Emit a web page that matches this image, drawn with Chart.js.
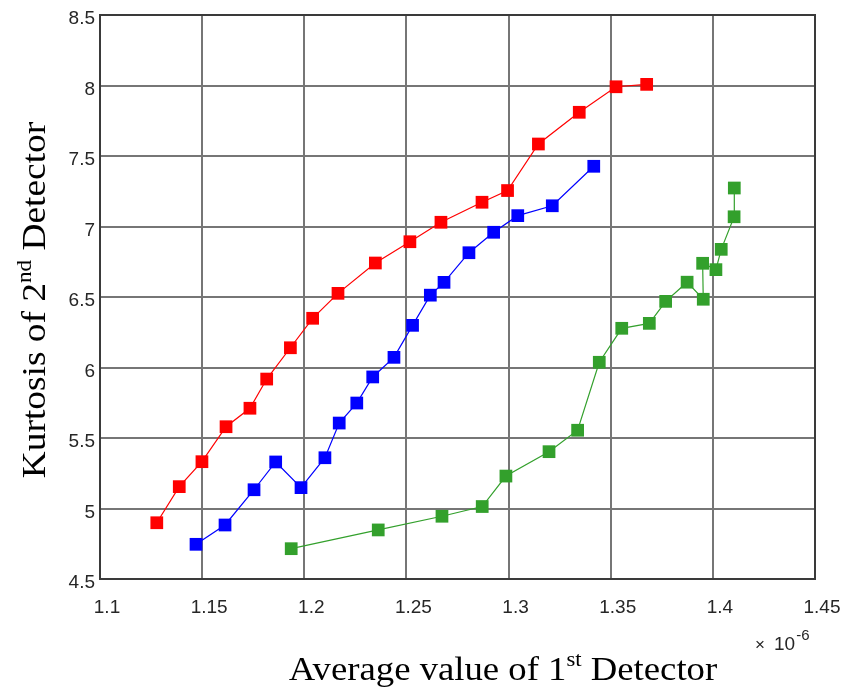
<!DOCTYPE html>
<html>
<head>
<meta charset="utf-8">
<script src="https://cdn.jsdelivr.net/npm/chart.js@4"></script>
<style>
  body { margin: 0; background: #fff; }
  #wrap { width: 842px; height: 696px; }
</style>
</head>
<body>
<div id="wrap"><canvas id="chart"></canvas></div>
<script>
// x values are in units of 1e-6 (axis multiplier shown as "x 10^-6")
const redX = [1.1278, 1.1388, 1.1499, 1.1617, 1.1734, 1.1816, 1.1932, 1.2041, 1.2165, 1.2348, 1.2517, 1.2669, 1.2870, 1.2995, 1.3146, 1.3346, 1.3526, 1.3676];
const redY = [4.899, 5.155, 5.332, 5.580, 5.711, 5.918, 6.140, 6.349, 6.526, 6.741, 6.892, 7.030, 7.172, 7.255, 7.585, 7.810, 7.991, 8.008];

const blueX = [1.1470, 1.1612, 1.1754, 1.1860, 1.1984, 1.2101, 1.2171, 1.2257, 1.2335, 1.2439, 1.2530, 1.2617, 1.2684, 1.2806, 1.2927, 1.3045, 1.3214, 1.3417];
const blueY = [4.746, 4.883, 5.133, 5.330, 5.148, 5.360, 5.606, 5.748, 5.933, 6.072, 6.299, 6.513, 6.604, 6.814, 6.959, 7.077, 7.147, 7.427];

const greenX = [1.1936, 1.2362, 1.2674, 1.2871, 1.2987, 1.3198, 1.3338, 1.3444, 1.3554, 1.3689, 1.3769, 1.3874, 1.3953, 1.3950, 1.4015, 1.4041, 1.4104, 1.4105];
const greenY = [4.715, 4.848, 4.945, 5.014, 5.230, 5.403, 5.555, 6.037, 6.278, 6.313, 6.469, 6.605, 6.484, 6.739, 6.694, 6.838, 7.069, 7.273];

const xTicks = [1.1, 1.15, 1.2, 1.25, 1.3, 1.35, 1.4, 1.45];
const yTicks = [4.5, 5, 5.5, 6, 6.5, 7, 7.5, 8, 8.5];

function toPoints(xs, ys) {
    return xs.map((x, i) => ({ x: x, y: ys[i] }));
}

function series(xs, ys, color) {
    return {
        data: toPoints(xs, ys),
        borderColor: color,
        backgroundColor: color,
        borderWidth: 1.2,
        pointStyle: 'rect',
        pointRadius: 9,
        pointBorderWidth: 0,
        showLine: true,
        tension: 0
    };
}

const tickFont = { family: 'Liberation Sans', size: 19 };
const tickColor = '#262626';

// draws a title with one superscript part, stretched a bit along the text
function titleWithSup(ctx, a, sup, b, stretch) {
    const big = '34px "Liberation Serif"';
    const small = '21px "Liberation Serif"';
    ctx.font = big; const w1 = ctx.measureText(a).width; const w3 = ctx.measureText(b).width;
    ctx.font = small; const w2 = ctx.measureText(sup).width;
    ctx.scale(stretch, 1);
    const x0 = -(w1 + w2 + w3) / 2;
    ctx.font = big; ctx.fillText(a, x0, 0);
    ctx.font = small; ctx.fillText(sup, x0 + w1, -14);
    ctx.font = big; ctx.fillText(b, x0 + w1 + w2, 0);
}

// frame, axis titles and exponent label
const decorations = {
    id: 'decorations',
    afterDraw(chart) {
        const ctx = chart.ctx;
        const a = chart.chartArea;
        ctx.save();
        ctx.strokeStyle = '#3a3a3a';
        ctx.lineWidth = 2;
        ctx.strokeRect(a.left, a.top, a.right - a.left, a.bottom - a.top);

        // exponent
        ctx.fillStyle = tickColor;
        ctx.textBaseline = 'alphabetic';
        ctx.font = '17px "Liberation Sans"';
        ctx.fillText('\u00d7', 755, 650);
        ctx.font = '19px "Liberation Sans"';
        ctx.fillText('10', 774, 650);
        const tw = ctx.measureText('10').width;
        ctx.font = '15px "Liberation Sans"';
        ctx.fillText('-6', 774 + tw + 1, 640);

        ctx.fillStyle = '#000';

        ctx.save();
        ctx.translate(503, 680);
        titleWithSup(ctx, 'Average value of 1', 'st', ' Detector', 1.08);
        ctx.restore();

        ctx.save();
        ctx.translate(45, 300);
        ctx.rotate(-Math.PI / 2);
        titleWithSup(ctx, 'Kurtosis of 2', 'nd', ' Detector', 1.1);
        ctx.restore();

        ctx.restore();
    }
};

new Chart(document.getElementById('chart'), {
    type: 'scatter',
    data: {
        datasets: [
            series(redX, redY, '#ff0000'),
            series(blueX, blueY, '#0000ff'),
            series(greenX, greenY, '#33a02c')
        ]
    },
    options: {
        responsive: true,
        maintainAspectRatio: false,
        animation: false,
        layout: { padding: { top: 15, right: 27, left: 0, bottom: 0 } },
        plugins: {
            legend: { display: false },
            tooltip: { enabled: false }
        },
        scales: {
            x: {
                type: 'linear',
                min: xTicks[0],
                max: xTicks[xTicks.length - 1],
                afterFit: s => { s.height = 117; s.paddingLeft = 0; s.paddingRight = 0; },
                afterBuildTicks: s => { s.ticks = xTicks.map(v => ({ value: v })); },
                grid: { color: '#767676', lineWidth: 2, drawTicks: false },
                border: { color: '#3a3a3a', width: 2 },
                ticks: {
                    font: tickFont,
                    color: tickColor,
                    padding: 17,
                    labelOffset: 7,
                    callback: v => String(+v.toFixed(2))
                }
            },
            y: {
                type: 'linear',
                min: yTicks[0],
                max: yTicks[yTicks.length - 1],
                afterFit: s => { s.width = 100; s.paddingTop = 0; s.paddingBottom = 0; },
                afterBuildTicks: s => { s.ticks = yTicks.map(v => ({ value: v })); },
                grid: { color: '#767676', lineWidth: 2, drawTicks: false },
                border: { color: '#3a3a3a', width: 2 },
                ticks: {
                    font: tickFont,
                    color: tickColor,
                    padding: 5,
                    labelOffset: 4,
                    callback: v => String(+v.toFixed(2))
                }
            }
        }
    },
    plugins: [decorations]
});
</script>
</body>
</html>
